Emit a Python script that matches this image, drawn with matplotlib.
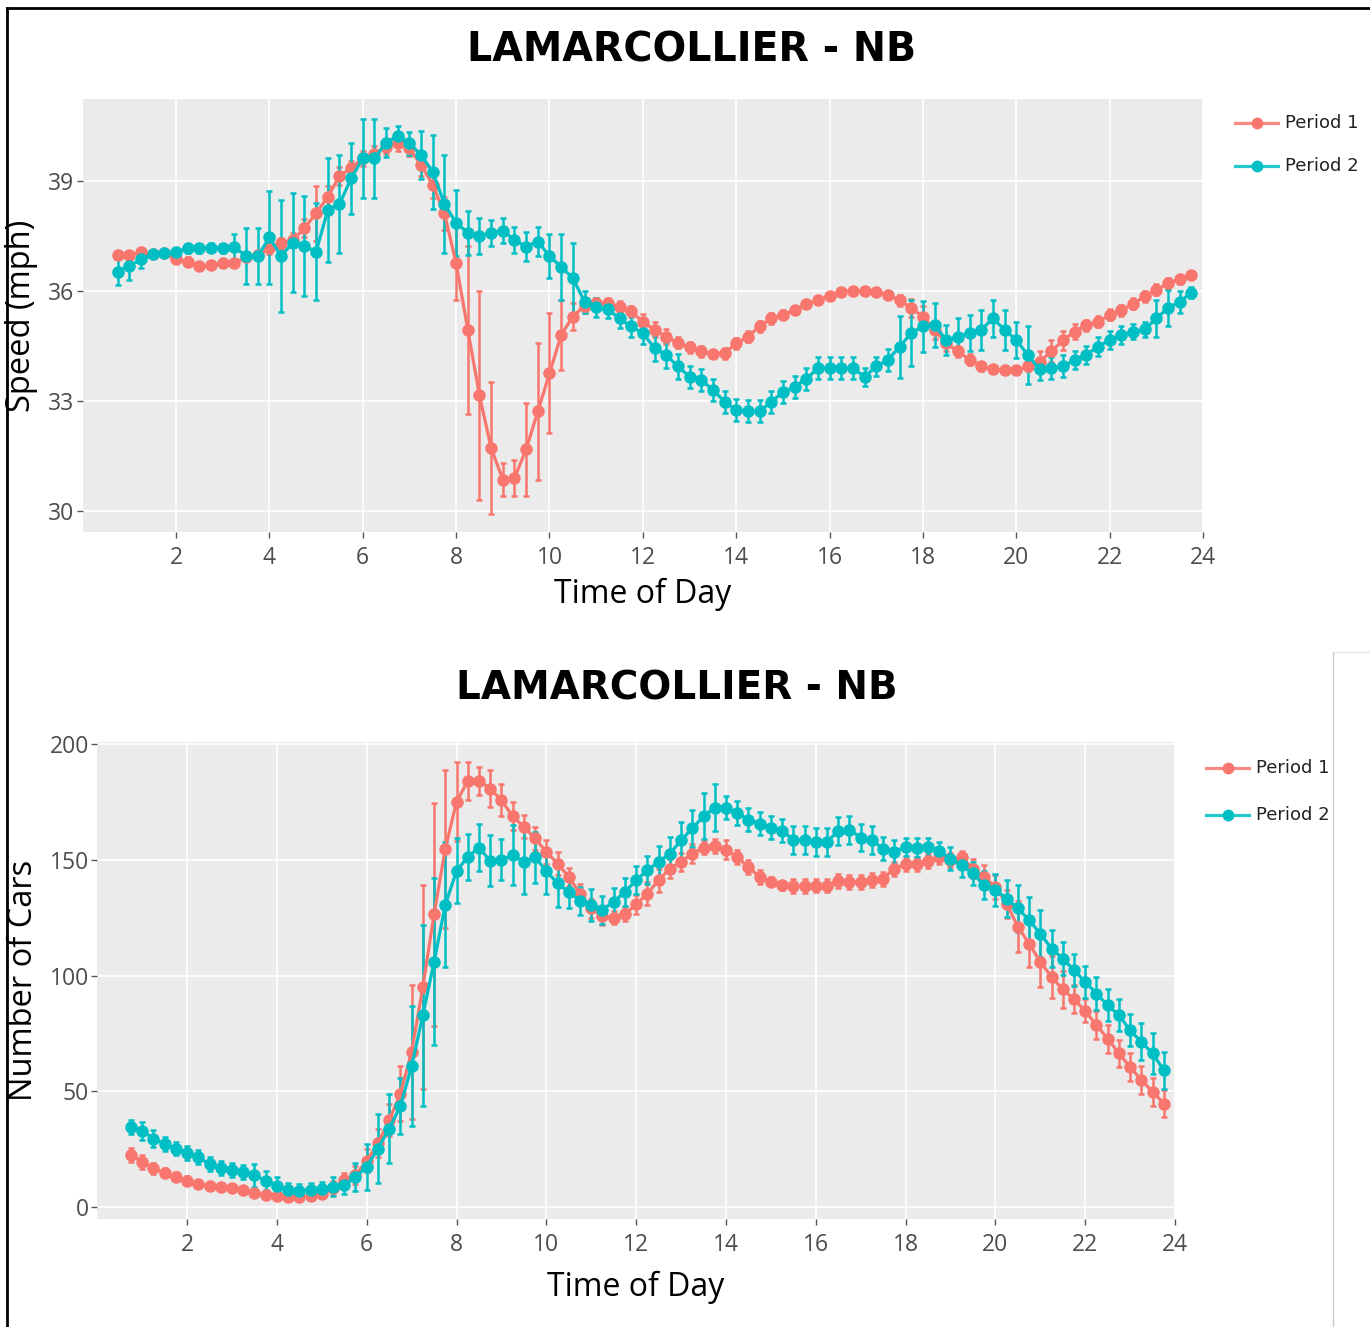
import numpy as np
import matplotlib
matplotlib.use("Agg")
import matplotlib.pyplot as plt
from matplotlib.lines import Line2D

# heures (pas de 15 minutes)
hours = np.arange(0.75, 24.0, 0.25)

speed_p1 = [36.98, 36.98, 37.07, 37.0, 37.03, 36.86, 36.8, 36.68, 36.71, 36.75, 36.75, 36.94, 36.98, 37.16, 37.3, 37.39, 37.71,
            38.12, 38.57, 39.14, 39.35, 39.62, 39.75, 39.94, 40.03, 39.89, 39.44, 38.89, 38.12, 36.75, 34.94, 33.15, 31.71,
            30.85, 30.89, 31.68, 32.71, 33.75, 34.8, 35.3, 35.59, 35.66, 35.66, 35.57, 35.44, 35.16, 34.94, 34.75, 34.59,
            34.46, 34.35, 34.28, 34.3, 34.57, 34.75, 35.03, 35.25, 35.35, 35.48, 35.64, 35.75, 35.85, 35.98, 36.0, 36.0,
            35.98, 35.89, 35.75, 35.53, 35.3, 34.94, 34.57, 34.35, 34.12, 33.94, 33.86, 33.83, 33.83, 33.94, 34.07, 34.35,
            34.65, 34.89, 35.07, 35.16, 35.35, 35.48, 35.65, 35.85, 36.03, 36.21, 36.32, 36.44]
speed_p2 = [36.53, 36.69, 36.86, 37.0, 37.03, 37.07, 37.16, 37.16, 37.18, 37.16, 37.2, 36.95, 36.95, 37.46, 36.95, 37.32, 37.23,
            37.07, 38.21, 38.37, 39.07, 39.62, 39.62, 40.05, 40.23, 40.03, 39.71, 39.25, 38.37, 37.86, 37.59, 37.5, 37.59,
            37.65, 37.39, 37.21, 37.35, 36.95, 36.66, 36.35, 35.71, 35.55, 35.5, 35.25, 35.03, 34.85, 34.44, 34.25, 33.94,
            33.66, 33.57, 33.3, 32.98, 32.75, 32.71, 32.71, 32.98, 33.23, 33.39, 33.6, 33.89, 33.89, 33.89, 33.89, 33.66,
            33.94, 34.12, 34.48, 34.85, 35.03, 35.07, 34.66, 34.75, 34.85, 34.94, 35.25, 34.94, 34.66, 34.25, 33.86, 33.89,
            33.94, 34.12, 34.25, 34.48, 34.66, 34.8, 34.89, 34.95, 35.25, 35.53, 35.71, 35.95]
speed_err_p1 = [0.12, 0.1, 0.1, 0.08, 0.08, 0.1, 0.12, 0.1, 0.1, 0.1, 0.1, 0.1, 0.12, 0.15, 0.15, 0.2, 0.25,
                0.75, 0.3, 0.25, 0.2, 0.2, 0.2, 0.2, 0.2, 0.2, 0.3, 0.35, 0.45, 1.0, 2.3, 2.85, 1.8,
                0.45, 0.5, 1.27, 1.86, 1.64, 0.95, 0.36, 0.2, 0.15, 0.15, 0.15, 0.15, 0.2, 0.2, 0.2, 0.15,
                0.15, 0.15, 0.12, 0.15, 0.15, 0.15, 0.15, 0.15, 0.12, 0.12, 0.1, 0.1, 0.1, 0.1, 0.1, 0.1,
                0.1, 0.1, 0.15, 0.25, 0.3, 0.25, 0.2, 0.15, 0.15, 0.12, 0.1, 0.1, 0.1, 0.12, 0.3, 0.3,
                0.25, 0.2, 0.15, 0.15, 0.15, 0.15, 0.15, 0.15, 0.15, 0.15, 0.12, 0.1]
speed_err_p2 = [0.36, 0.39, 0.23, 0.1, 0.1, 0.1, 0.12, 0.12, 0.12, 0.12, 0.36, 0.77, 0.76, 1.26, 1.52, 1.36, 1.36,
                1.32, 1.43, 1.34, 0.98, 1.07, 1.07, 0.39, 0.28, 0.32, 0.66, 1.0, 1.34, 0.9, 0.6, 0.5, 0.35,
                0.35, 0.35, 0.4, 0.4, 0.6, 0.9, 0.95, 0.3, 0.25, 0.25, 0.25, 0.3, 0.3, 0.35, 0.35, 0.35,
                0.3, 0.3, 0.3, 0.3, 0.3, 0.3, 0.3, 0.3, 0.3, 0.3, 0.3, 0.3, 0.3, 0.3, 0.3, 0.25,
                0.25, 0.3, 0.85, 0.9, 0.7, 0.6, 0.4, 0.5, 0.5, 0.55, 0.5, 0.55, 0.5, 0.8, 0.3, 0.3,
                0.3, 0.25, 0.25, 0.25, 0.25, 0.25, 0.2, 0.2, 0.5, 0.5, 0.3, 0.15]

cars_p1 = [22.6, 19.7, 16.8, 14.9, 13.2, 11.5, 10.3, 9.2, 8.6, 8.2, 7.5, 6.3, 5.3, 4.9, 4.3, 4.3, 4.9,
           5.7, 8.2, 11.8, 13.9, 20.1, 27.6, 37.6, 49.1, 67.1, 95.1, 126.4, 154.7, 174.9, 183.9, 183.9, 180.6,
           175.6, 168.7, 164.1, 159.1, 153.3, 148.3, 142.5, 135.3, 128.9, 125.6, 125.0, 126.4, 130.7, 135.3, 141.1, 146.1,
           149.0, 152.6, 155.2, 155.7, 154.3, 151.1, 146.8, 142.5, 140.4, 138.9, 138.5, 138.5, 138.8, 138.8, 140.8, 140.4,
           140.4, 141.1, 141.8, 146.1, 148.0, 148.0, 149.4, 150.9, 149.7, 150.9, 146.1, 142.5, 138.2, 131.0, 121.0, 113.8,
           105.9, 99.4, 94.0, 89.7, 84.8, 78.6, 72.8, 66.4, 60.6, 54.9, 49.9, 44.8]
cars_p2 = [34.8, 33.0, 29.7, 27.3, 25.4, 23.3, 21.6, 18.7, 16.8, 16.1, 15.4, 13.9, 11.5, 9.2, 7.5, 7.2, 7.5,
           7.8, 8.9, 9.6, 13.2, 17.5, 25.4, 34.0, 43.7, 60.9, 82.9, 105.9, 130.5, 145.1, 151.1, 155.2, 149.4,
           150.0, 151.9, 149.0, 150.9, 145.1, 139.7, 136.1, 132.2, 130.3, 128.4, 131.8, 136.1, 141.1, 145.4, 149.0, 152.6,
           158.3, 163.4, 168.7, 172.4, 172.4, 170.1, 167.2, 165.5, 163.8, 162.4, 158.6, 158.3, 157.6, 157.6, 162.4, 162.9,
           159.5, 158.3, 154.7, 153.3, 155.5, 155.2, 155.5, 153.7, 150.4, 147.6, 144.0, 138.9, 136.8, 133.2, 128.9, 123.9,
           118.1, 111.6, 107.3, 102.3, 97.3, 92.2, 87.2, 82.9, 76.4, 71.4, 66.4, 59.2]
cars_err_p1 = [3, 3, 2.5, 2, 2, 2, 1.5, 1.5, 1.5, 1.5, 1.5, 1.5, 1.5, 1.5, 1.5, 1.5, 1.5,
               1.5, 3, 3, 4, 5, 6, 7, 12, 29, 44, 48, 34, 17, 8, 6, 8,
               7, 6, 5, 5, 5, 5, 4, 4, 4, 4, 3, 3, 4, 5, 5, 4,
               4, 4, 3, 3, 4, 3, 3, 3, 2, 2, 3, 3, 3, 3, 3, 3,
               3, 3, 3, 3, 3, 3, 3, 3, 3, 3, 4, 5, 5, 6, 11, 10,
               11, 9, 8, 6, 5, 6, 6, 6, 6, 6, 6, 6]
cars_err_p2 = [3, 4, 3.5, 3, 3, 3, 3, 3, 3, 3, 3, 5, 4, 4, 3, 3, 3,
               3, 4, 4, 6, 10, 15, 15, 12, 26, 39, 36, 27, 14, 10, 10, 11,
               9, 13, 14, 11, 10, 10, 7, 6, 7, 6, 6, 6, 6, 6, 7, 7,
               8, 8, 10, 10, 5, 5, 5, 5, 5, 5, 6, 6, 6, 6, 6, 6,
               6, 6, 5, 5, 4, 4, 4, 4, 5, 5, 5, 6, 7, 8, 10, 10,
               10, 8, 7, 7, 7, 7, 7, 7, 7, 8, 9, 8]

x_ticks = [2, 4, 6, 8, 10, 12, 14, 16, 18, 20, 22, 24]
speed_ticks = [30, 33, 36, 39]
cars_ticks = [0, 50, 100, 150, 200]
labels = ["Period 1", "Period 2"]
colors = ["#F8766D", "#00BFC4"]
title = "LAMARCOLLIER - NB"

W, H = 1370, 1327
fig = plt.figure(figsize=(W / 100, H / 100), dpi=100)


def fx(px):
    return px / W


def fy(py):
    return 1 - py / H


def style_axes(ax, xlim, ylim, yticks):
    ax.set_facecolor("#EBEBEB")
    ax.set_xlim(*xlim)
    ax.set_ylim(*ylim)
    ax.set_xticks(x_ticks)
    ax.set_yticks(yticks)
    ax.grid(True, color="white", linewidth=1.2)
    ax.set_axisbelow(True)
    for s in ax.spines.values():
        s.set_visible(False)
    ax.tick_params(length=4, width=1, color="#555555", labelcolor="#4D4D4D",
                   labelsize=16.5)
    ax.tick_params(axis="y", pad=2)
    ax.tick_params(axis="x", pad=6)
    for lab in ax.get_xticklabels() + ax.get_yticklabels():
        lab.set_family("Open Sans")


def draw_series(ax, ys, errs):
    for y, e, c in zip(ys, errs, colors):
        ax.errorbar(hours, y, yerr=e, color=c, marker="o", markersize=8,
                    linewidth=2.3, elinewidth=1.8, capsize=2.2, capthick=1.8)


def draw_legend(x0, y0, dy):
    for i, (lab, c) in enumerate(zip(labels, colors)):
        yy = fy(y0 + i * dy)
        fig.add_artist(Line2D([fx(x0), fx(x0 + 43)], [yy, yy], color=c, linewidth=2.3,
                              alpha=0.85))
        fig.add_artist(Line2D([fx(x0 + 21.5)], [yy], color=c, marker="o", markersize=7.5))
        fig.text(fx(x0 + 50), yy, lab, fontsize=13, va="center", ha="left",
                 color="#222222", family="DejaVu Sans")


# Graphique 1: vitesse
ax1 = fig.add_axes([fx(82.7), fy(532), fx(1203 - 82.7), (532 - 99) / H])
style_axes(ax1, (0, 24), (29.42, 41.24), speed_ticks)
draw_series(ax1, [speed_p1, speed_p2], [speed_err_p1, speed_err_p2])

# Graphique 2: nombre de voitures
ax2 = fig.add_axes([fx(97.3), fy(1219), fx(1175 - 97.3), (1219 - 742) / H])
style_axes(ax2, (0, 24), (-5.0, 200.7), cars_ticks)
draw_series(ax2, [cars_p1, cars_p2], [cars_err_p1, cars_err_p2])

# titres et libellés
fig.text(fx(692), fy(50), title, fontsize=28.5, fontweight="bold", ha="center", va="center",
         family="DejaVu Sans")
fig.text(fx(677), fy(688), title, fontsize=28, fontweight="bold", ha="center", va="center",
         family="DejaVu Sans")
fig.text(fx(643), fy(594), "Time of Day", fontsize=23, ha="center", va="center", family="Open Sans")
fig.text(fx(636), fy(1287), "Time of Day", fontsize=23, ha="center", va="center", family="Open Sans")
fig.text(fx(22), fy(316), "Speed (mph)", fontsize=23.5, ha="center", va="center", rotation=90,
         family="Open Sans")
fig.text(fx(24), fy(980), "Number of Cars", fontsize=23.5, ha="center", va="center", rotation=90,
         family="Open Sans")

draw_legend(1235, 123, 43)
draw_legend(1206, 768, 47)

# cadre de la capture
fig.add_artist(Line2D([fx(7), fx(7)], [0, fy(8)], color="black", linewidth=2))
fig.add_artist(Line2D([fx(7), 1], [fy(8), fy(8)], color="black", linewidth=2))
fig.add_artist(Line2D([fx(1333), fx(1333)], [0, fy(652)], color="#CCCCCC", linewidth=1))
fig.add_artist(Line2D([fx(1333), 1], [fy(652), fy(652)], color="#E6E6E6", linewidth=1))

fig.savefig("out.png", dpi=100)
plt.close(fig)
